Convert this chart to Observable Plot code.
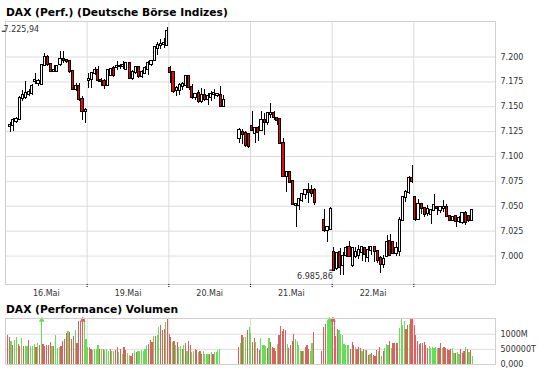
<!DOCTYPE html>
<html><head><meta charset="utf-8">
<script src="https://cdn.jsdelivr.net/npm/d3@7"></script>
<script src="https://cdn.jsdelivr.net/npm/@observablehq/plot@0.6"></script>
<style>
body{margin:0;background:#fff;}
#wrap{position:relative;width:545px;height:370px;overflow:hidden;font-family:"DejaVu Sans",Verdana,sans-serif;}
.t{position:absolute;left:6px;font-weight:bold;font-size:10.7px;line-height:13px;color:#000;white-space:nowrap;z-index:2;}
#main,#vol{position:absolute;left:0;z-index:1;}
</style></head><body>
<div id="wrap">
<div id="main" style="top:0"></div>
<div id="vol" style="top:310px"></div>
<div class="t" style="top:5.5px">DAX (Perf.) (Deutsche Börse Indizes)</div>
<div class="t" style="top:302.8px">DAX (Performance) Volumen</div>
</div>
<script>
// ---- price candles (20-minute slots, 26 per day) ----
const dayLabels = ["16.Mai", "19.Mai", "20.Mai", "21.Mai", "22.Mai"];
const priceTicks = [7000, 7025, 7050, 7075, 7100, 7125, 7150, 7175, 7200];
const open = [null,7130,7131,7135,7137,7158,7159,7162,7163,7175,7173,7172,7191,7200,7192,7185,7185,7192,7198,7197,7195,7185,7167,7170,7157,7145,
7176,7177,7183,7186,7176,7175,7171,7181,7188,7189,7190,7190,7187,7193,7178,7184,7189,7180,7183,7187,7192,7197,7209,7212,7213,7212,
7188,7184,7166,7166,7170,7171,7180,7169,7159,7163,7155,7161,7157,7159,7162,7161,7161,7150,null,null,null,null,7118,7124,7123,7122,
7130,7123,7128,7126,7136,7134,7142,7143,7138,7137,7113,7080,7084,7075,7051,7051,7056,7062,7066,7066,7066,null,null,7036,7026,7027,
7004,6987,7004,6990,7001,7009,6990,7000,7001,7004,7008,6999,7006,7009,7005,6998,6991,7000,7015,7014,7003,7005,7036,7059,7064,7078,
7059,7037,7052,7048,7043,7042,7046,7049,7046,7048,7049,7040,7036,7040,7035,7034,7043,7040,7036];
const high = [null,7134,7138,7139,7160,7166,7175,7167,7172,7183,7177,7192,7204,7202,7193,7191,7191,7206,7206,7198,7197,7186,7173,7173,7160,7148,
7183,7184,7189,7190,7178,7177,7187,7188,7190,7195,7192,7195,7194,7194,7186,7190,7190,7186,7190,7195,7197,7211,7215,7218,7219,7230,
7190,7185,7170,7173,7174,7181,7181,7172,7163,7166,7168,7167,7163,7165,7167,7163,7170,7161,null,null,null,null,7128,7127,7125,7123,
7145,7128,7130,7145,7143,7144,7153,7145,7139,7138,7118,7085,7085,7076,7053,7058,7063,7067,7073,7071,7068,null,null,7047,7029,7049,
7009,7004,7008,7004,7010,7015,7009,7009,7011,7010,7009,7010,7010,7010,7006,7000,7001,7021,7022,7015,7014,7039,7060,7066,7080,7091,
7060,7057,7053,7049,7051,7047,7062,7050,7050,7056,7052,7041,7040,7041,7040,7044,7045,7041,7046];
const low = [null,7124,7125,7133,7136,7155,7157,7160,7161,7172,7170,7171,7190,7190,7184,7184,7184,7190,7193,7193,7183,7166,7165,7155,7136,7133,
7168,7168,7181,7174,7170,7167,7170,7180,7179,7186,7187,7187,7186,7177,7176,7182,7178,7178,7182,7181,7190,7195,7202,7208,7209,7211,
7173,7163,7160,7161,7166,7168,7166,7157,7156,7153,7153,7155,7151,7155,7157,7159,7149,7149,null,null,null,null,7113,7112,7109,7108,
7125,7113,7115,7125,7121,7131,7138,7136,7131,7112,7079,7064,7073,7051,7029,7046,7054,7057,7053,7059,7051,null,null,7024,7014,7026,
6986,6985,6980,6980,6999,6999,6988,6998,6997,6995,6994,6994,7001,6994,6993,6982,6987,6999,7000,7002,7000,7000,7035,7054,7062,7073,
7035,7036,7042,7039,7040,7032,7045,7041,7043,7044,7039,7035,7035,7029,7033,7032,7031,7034,7035];
const close = [null,7131,7136,7137,7158,7161,7163,7164,7170,7176,7175,7191,7200,7192,7185,7186,7190,7198,7197,7195,7185,7167,7170,7157,7145,7146,
7177,7183,7186,7176,7175,7171,7186,7187,7181,7190,7190,7191,7193,7178,7184,7189,7180,7184,7188,7193,7196,7210,7212,7213,7214,7225.94,
7184,7165,7168,7171,7172,7180,7169,7159,7162,7155,7161,7157,7160,7162,7163,7162,7150,7156,null,null,null,null,7126,7122,7111,7110,
7126,7128,7124,7136,7134,7143,7143,7139,7136,7113,7080,7084,7074,7052,7052,7057,7062,7066,7064,7063,7054,null,null,7026,7029,7047,
6985.86,7003,6988,7000,7008,7000,7008,7004,7006,7009,7002,7006,7009,7005,6996,6991,6997,7014,7001,7003,7008,7036,7059,7064,7078,7075,
7037,7052,7048,7042,7047,7046,7051,7048,7049,7049,7040,7036,7039,7035,7038,7043,7034,7036,7046];

// ---- volume (10-minute slots, 52 per day), values in millions; g = up, r = down ----
const volTicks = [0, 500, 1000];
const volTickLabels = ["0,000", "500000T", "1000M"];
const vol16 = [968,891,746,613,780,891,657,591,857,591,591,591,791,591,591,646,546,691,613,1800,657,591,613,635,724,591,591,946,524,569,591,746,835,1035,1101,1057,813,924,1124,702,1412,1434,1800,1479,835];
const dir16 = "rrgrggrrgrggrgggrgrgrrrrrgrgggrrrrgrrrgrrrrgg";
const vol19 = [546,546,502,446,480,502,613,502,480,502,446,480,413,480,435,413,446,558,391,502,335,546,446,369,302,280,369,413,391,435,413,446,435,502,635,657,780,724,924,924,946,1224,1301,1113,1146,1390,1479];
const dir19 = "grrggggrgrgggrggrrgrgrrggrrgrggggggrrrgrggrrrgr";
const vol20a = [990,891,724,746,613,724,558,591,502,613,702,413,746,613,391,435,502,446,391,413,335,413,335,335,335,335,391,335,391,391,446,480];
const dir20a = "rrgrgrggrgrgrrggrrgrrggggrgrgggg";
const vol20b = [546,702,968,891,891,1113,1224];
const dir20b = "rgrggrg";
const vol21a = [1035,724,857,724,524,446,857,613,635,580,524,857,724,558,524,413,669,946,1257,1079,1146,1135,669,524,613,746,990,835,746,613,413,413,413,558,613,502,413,691,1057];
const dir21a = "grrgrrggggrgrrrrgrrrrrgrrrrggggrgrrrggr";
const vol21b = [413,1224,1335,1412,1800,1479];
const dir21b = "rrrggg";
const vol22 = [1800,1479,924,1146,1113,1002,968,669,635,624,613,502,724,613,546,480,558,524,413,480,446,446,302,335,347,313,280,446,413,558,280,435,524,669,613,746,524,702,702,702,691,1190,1479,1301,1434,1146,1301,1335,1479,1501];
const dir22 = "rrrrgggggggrrrgrrrgrgrrgrrrrgrgrgggrgrrrrggggrrgrr";
const vol23 = [1301,946,746,669,702,702,724,613,524,591,524,558,524,569,524,524,702,524,558,524,480,446,480,524,369,369,391,335,502,369,413,558,480,391,446,280];
const dir23 = "rrrrrrrrrggggggrrgrrrrrggrggrrrgrgrg";
const volStarts = [1, 52, 104, 148, 156, 201, 208, 260];
const volEnds = [51, 103, 136, 155, 196, 207, 259, 297];

// ---- build ----
const SLOTS = 26, DAYS = 6, VSLOTS = 52;
const candles = open.map((o, i) => o == null ? null : {t: i + 0.5, o, h: high[i], l: low[i], c: close[i]}).filter(Boolean);
const up = candles.filter(d => d.c >= d.o), down = candles.filter(d => d.c < d.o);
const bounds = d3.range(1, DAYS).map(d => d * SLOTS);
const centers = dayLabels.map((_, i) => (i + 0.5) * SLOTS);
const de = v => { const s = Math.round(v).toString(); return s.length > 3 ? s.slice(0, -3) + "." + s.slice(-3) : s; };
const de2 = v => { const [a, b] = v.toFixed(2).split("."); return de(+a) + "," + b; };
const maxC = d3.greatest(candles, d => d.c), minC = d3.least(candles, d => d.c);
const BW = 0.34;
const YMIN = 6971.4, YMAX = 7235.7;

const main = Plot.plot({
  width: 545, height: 300, marginTop: 21, marginBottom: 16, marginLeft: 5, marginRight: 50,
  x: {domain: [0, SLOTS * DAYS], label: null, axis: null},
  y: {domain: [YMIN, YMAX], label: null, axis: null},
  style: {fontFamily: "'DejaVu Sans', Verdana, sans-serif", fontSize: "8px", color: "#333", background: "transparent"},
  marks: [
    Plot.gridY(priceTicks, {stroke: "#dcdcdc", strokeOpacity: 1}),
    Plot.gridX(bounds, {stroke: "#dcdcdc", strokeOpacity: 1}),
    Plot.frame({stroke: "#cfcfcf"}),
    Plot.axisY(priceTicks, {anchor: "right", tickSize: 0, tickPadding: 5, tickFormat: de, label: null}),
    Plot.axisX(centers, {anchor: "bottom", tickSize: 0, tickPadding: 6, tickFormat: d => dayLabels[Math.round(d / SLOTS - 0.5)], label: null}),
    Plot.axisX(bounds, {anchor: "bottom", tickSize: 4, tickFormat: () => "", stroke: "#000", strokeDasharray: "1 1", label: null}),
    Plot.ruleX(candles, {x: "t", y1: "l", y2: "h", stroke: "#000", shapeRendering: "crispEdges"}),
    Plot.rect(up, {x1: d => d.t - BW, x2: d => d.t + BW, y1: "o", y2: "c", fill: "#fff", stroke: "#000", insetTop: -0.5, insetBottom: -0.5, shapeRendering: "crispEdges"}),
    Plot.rect(down, {x1: d => d.t - BW, x2: d => d.t + BW, y1: "o", y2: "c", fill: "#ff0000", stroke: "#000", insetTop: -0.5, insetBottom: -0.5, shapeRendering: "crispEdges"}),
    Plot.ruleY([maxC], {y: "c", x1: -1, x2: 0, stroke: "#000"}),
    Plot.text([maxC], {x: 0, y: "c", text: d => de2(d.c), textAnchor: "start", lineAnchor: "bottom", dx: -2, dy: 1, fill: "#333"}),
    Plot.ruleY([minC], {y: "c", x1: d => d.t - 1.3, x2: d => d.t, stroke: "#000"}),
    Plot.text([minC], {x: "t", y: "c", text: d => de2(d.c), textAnchor: "end", lineAnchor: "top", dx: -1, dy: 3, fill: "#333"})
  ]
});
document.getElementById("main").appendChild(main);

// volume: each session's bars span its session slots
const vols = [vol16, vol19, vol20a, vol20b, vol21a, vol21b, vol22, vol23];
const dirs = [dir16, dir19, dir20a, dir20b, dir21a, dir21b, dir22, dir23];
const bars = vols.flatMap((arr, k) => {
  const a = volStarts[k], b = volEnds[k], n = arr.length;
  const step = n > 1 ? (b - a) / (n - 1) : 1;
  return arr.map((v, i) => ({s: a + i * step, w: Math.min(step, 1), v, up: dirs[k][i] === "g"}));
});
const VMAX = 1518;
const GREEN = "#66dd55", RED = "#dd6060";
const volPlot = Plot.plot({
  width: 545, height: 60, marginTop: 8, marginBottom: 6, marginLeft: 5, marginRight: 50,
  x: {domain: [0, VSLOTS * DAYS], label: null, axis: null},
  y: {domain: [0, VMAX], label: null, axis: null},
  style: {fontFamily: "'DejaVu Sans', Verdana, sans-serif", fontSize: "8px", color: "#333", background: "transparent"},
  marks: [
    Plot.gridY([500, 1000], {stroke: "#dcdcdc", strokeOpacity: 1}),
    Plot.gridX(bounds.map(b => b * 2), {stroke: "#dcdcdc", strokeOpacity: 1}),
    Plot.rect(bars, {x1: d => d.s + 0.15, x2: d => d.s + 0.15 + 0.75 * d.w, y1: 0, y2: d => Math.min(d.v, VMAX), fill: d => d.up ? GREEN : RED, shapeRendering: "crispEdges"}),
    Plot.dot(bars.filter(d => d.v > VMAX), {x: d => d.s + 0.5, y: VMAX, symbol: "triangle", r: 2.2, fill: d => d.up ? GREEN : RED, stroke: "none", dy: 1.5}),
    Plot.frame({stroke: "#cfcfcf"}),
    Plot.axisY(volTicks, {anchor: "right", tickSize: 0, tickPadding: 5, tickFormat: d => volTickLabels[volTicks.indexOf(d)], label: null})
  ]
});
document.getElementById("vol").appendChild(volPlot);
</script>
</body></html>
